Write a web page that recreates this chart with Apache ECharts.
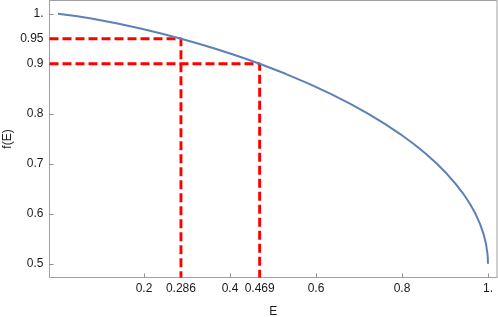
<!DOCTYPE html>
<html>
<head>
<meta charset="utf-8">
<script src="https://cdn.jsdelivr.net/npm/echarts@6/dist/echarts.min.js"></script>
<style>html,body{margin:0;padding:0;background:#fff}#c{width:498px;height:317px}</style>
</head>
<body>
<div id="c"></div>
<script>
// curve values (E, f(E))
const curveE = [0, 0.0454, 0.0808, 0.1414, 0.1944, 0.2423, 0.2864, 0.3274, 0.3659, 0.4022, 0.4365, 0.4690, 0.5294, 0.5842, 0.6343, 0.6801, 0.7219, 0.7602, 0.7950, 0.8267, 0.8555, 0.8813, 0.9044, 0.9248, 0.9427, 0.9580, 0.9710, 0.9815, 0.9896, 0.9954, 0.99885, 0.99971, 1];
const curveF = [1, 0.995, 0.99, 0.98, 0.97, 0.96, 0.95, 0.94, 0.93, 0.92, 0.91, 0.90, 0.88, 0.86, 0.84, 0.82, 0.80, 0.78, 0.76, 0.74, 0.72, 0.70, 0.68, 0.66, 0.64, 0.62, 0.60, 0.58, 0.56, 0.54, 0.52, 0.51, 0.50];
// guide points
const guideE = [0.286, 0.469];
const guideF = [0.95, 0.9];
// tick labels
const xLabelValues = [0.2, 0.286, 0.4, 0.469, 0.6, 0.8, 1];
const xTickValues = [0.2, 0.4, 0.6, 0.8, 1];
const yLabelValues = [0.5, 0.6, 0.7, 0.8, 0.9, 0.95, 1];

const xMin = -0.0197, xMax = 1.021, yMin = 0.4726, yMax = 1.0266;

const fmt = v => (v === 1 ? '1.' : String(+v.toFixed(3)));

const series = [];
guideE.forEach((e, i) => {
  series.push({
    type: 'line', symbol: 'none', silent: true, z: 2,
    data: [[xMin, guideF[i]], [e, guideF[i]], [e, yMin]],
    lineStyle: { color: '#ff0000', width: 2.9, type: [9, 4] }
  });
});
series.push({
  type: 'line', symbol: 'none', z: 3,
  data: curveE.map((e, i) => [e, curveF[i]]),
  lineStyle: { color: '#5e81b5', width: 2 }
});

const chart = echarts.init(document.getElementById('c'), null, { renderer: 'canvas' });
chart.setOption({
  animation: false,
  grid: { left: 49.5, right: 1, top: 0.5, bottom: 39.5, show: true, borderColor: '#a0a0a0', borderWidth: 1, containLabel: false, outerBoundsMode: 'none' },
  xAxis: {
    type: 'value', min: xMin, max: xMax,
    name: 'E', nameLocation: 'middle', nameGap: 28, nameMoveOverlap: false,
    nameTextStyle: { fontFamily: 'Liberation Sans', fontSize: 12, color: '#1a1a1a' },
    axisLine: { show: true, onZero: false, lineStyle: { color: '#a0a0a0' } },
    axisTick: { show: true, inside: true, length: 4, customValues: xTickValues, lineStyle: { color: '#909090' } },
    axisLabel: { customValues: xLabelValues, formatter: fmt, margin: 5, fontFamily: 'Liberation Sans', fontSize: 12, color: '#1a1a1a', hideOverlap: false },
    splitLine: { show: false }
  },
  yAxis: {
    type: 'value', min: yMin, max: yMax,
    name: 'f(E)', nameLocation: 'middle', nameGap: 36, nameRotate: 90, nameMoveOverlap: false,
    nameTextStyle: { fontFamily: 'Liberation Sans', fontSize: 12, color: '#1a1a1a' },
    axisLine: { show: true, onZero: false, lineStyle: { color: '#a0a0a0' } },
    axisTick: { show: true, inside: true, length: 4, customValues: yLabelValues, lineStyle: { color: '#909090' } },
    axisLabel: { customValues: yLabelValues, formatter: fmt, margin: 6, fontFamily: 'Liberation Sans', fontSize: 12, color: '#1a1a1a', hideOverlap: false },
    splitLine: { show: false }
  },
  series: series
});
</script>
</body>
</html>
